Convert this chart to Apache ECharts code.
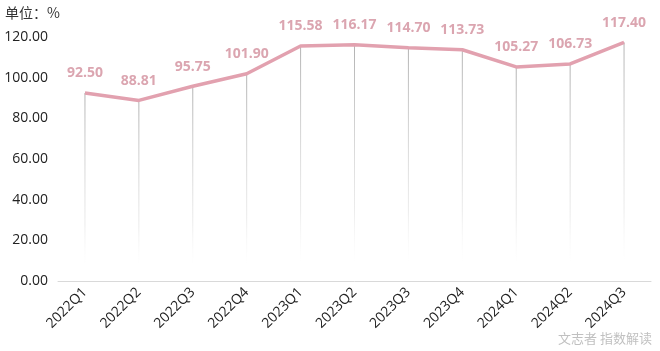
<!DOCTYPE html>
<html><head><meta charset="utf-8">
<script src="https://cdn.jsdelivr.net/npm/echarts@6/dist/echarts.min.js"></script>
<style>html,body{margin:0;padding:0;background:#fff}#c{width:660px;height:351px}</style>
</head><body><div id="c"></div>
<script>
const categories = ['2022Q1','2022Q2','2022Q3','2022Q4','2023Q1','2023Q2','2023Q3','2023Q4','2024Q1','2024Q2','2024Q3'];
const values = [92.50, 88.81, 95.75, 101.90, 115.58, 116.17, 114.70, 113.73, 105.27, 106.73, 117.40];
const yTicks = [0, 20, 40, 60, 80, 100, 120];
const unitLabel = '单位：%';
const watermark = '文志者 指数解读';

const chart = echarts.init(document.getElementById('c'));
chart.setOption({
  animation: false,
  backgroundColor: '#fff',
  textStyle: { fontFamily: '"Noto Sans CJK SC", "Open Sans", sans-serif' },
  graphic: [
    { type: 'text', left: 5, top: 6, style: { text: unitLabel, fill: '#333', font: '14px "Noto Sans CJK SC", sans-serif' } },
    { type: 'text', right: 8, bottom: 6, style: { text: watermark, fill: 'rgba(150,150,150,0.6)', font: '13px "Noto Sans CJK SC", sans-serif' } }
  ],
  grid: { left: 58, right: 9, top: 37, bottom: 70 },
  xAxis: {
    type: 'category',
    data: categories,
    boundaryGap: true,
    axisLine: { lineStyle: { color: '#d9d9d9' } },
    axisTick: { show: false },
    axisLabel: { rotate: 45, color: '#222', fontSize: 14, margin: 9, fontFamily: '"Open Sans", sans-serif' }
  },
  yAxis: {
    type: 'value',
    min: yTicks[0], max: yTicks[yTicks.length - 1], interval: 20,
    splitLine: { show: false },
    axisLine: { show: false },
    axisTick: { show: false },
    axisLabel: { color: '#222', fontSize: 14, margin: 10, formatter: v => v.toFixed(2), fontFamily: '"Open Sans", sans-serif' }
  },
  series: [
    {
      type: 'bar',
      data: values,
      barWidth: 1,
      silent: true,
      itemStyle: {
        color: new echarts.graphic.LinearGradient(0, 0, 0, 1, [
          { offset: 0, color: 'rgba(170,170,170,0.9)' },
          { offset: 0.7, color: 'rgba(200,200,200,0.35)' },
          { offset: 0.92, color: 'rgba(230,230,230,0)' },
          { offset: 1, color: 'rgba(230,230,230,0)' }
        ])
      },
      z: 1
    },
    {
      type: 'line',
      data: values,
      symbol: 'circle',
      symbolSize: 1,
      showSymbol: true,
      itemStyle: { color: 'rgba(0,0,0,0)' },
      lineStyle: { color: '#e2a1af', width: 3.5 },
      label: {
        show: true, position: 'top', distance: 12,
        color: '#dba5b0', fontSize: 14, fontWeight: 'bold',
        fontFamily: '"Open Sans", sans-serif',
        formatter: p => p.value.toFixed(2)
      },
      z: 3
    }
  ]
});
</script></body></html>
